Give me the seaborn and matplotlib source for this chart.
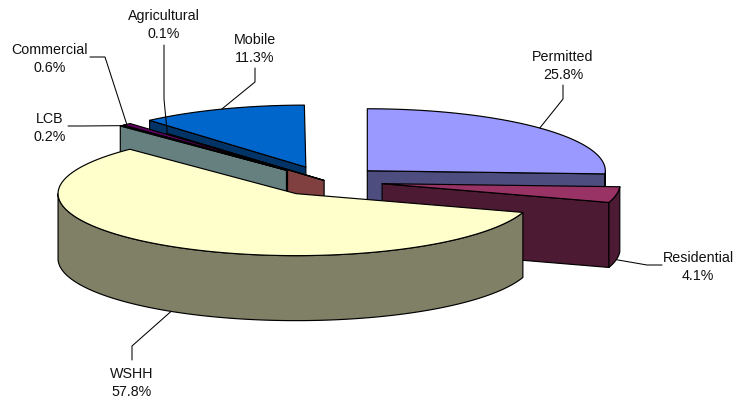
import numpy as np
import matplotlib
matplotlib.use("Agg")
import matplotlib.pyplot as plt
from matplotlib.patches import Polygon
import seaborn as sns

categories = ["Permitted", "Residential", "WSHH", "LCB", "Commercial", "Agricultural", "Mobile"]
shares = [25.8, 4.1, 57.8, 0.2, 0.6, 0.1, 11.3]
explode = [1, 1, 1, 1, 1, 0.05, 1]
top_colors = ["#9999FF", "#993366", "#FFFFCC", "#CCFFFF", "#660066", "#FF8080", "#0066CC"]
label_pos = [(563, 66), (698, 267), (132, 383), (50, 128), (50, 59), (164, 25), (255, 49)]
leader_knee = [[(563, 86), (563, 100)], [(662, 266), (647, 266)], [(132, 361), (132, 347)],
               [(68, 127), (82, 127)], [(90, 58), (105, 58)], [(164, 46), (164, 100)], [(255, 69), (255, 83)]]
draw_order = [0, 6, 5, 4, 3, 1, 2]

CX, CY, RX, RY, DEPTH, EXPL = 326.0, 182.0, 238.0, 62.0, 65.0, 57.0

sns.set_theme(style="white")
plt.rcParams["font.family"] = ["Liberation Sans", "DejaVu Sans"]
palette = sns.color_palette(top_colors)
fig = plt.figure(figsize=(7.39, 4.02), dpi=100)
ax = fig.add_axes([0, 0, 1, 1])
ax.set_xlim(0, 739)
ax.set_ylim(402, 0)
ax.axis("off")

LW = 0.85


def rim(ax0, ay0, deg):
    a = np.radians(deg)
    return np.stack([ax0 + RX * np.sin(a), ay0 - RY * np.cos(a)], axis=-1)


def poly(points, color, z):
    ax.add_patch(Polygon(points, closed=True, facecolor=color, edgecolor="black",
                         linewidth=LW, joinstyle="round", zorder=z))


edges = np.cumsum([0] + shares) * 3.6
apexes = {}
for i in range(len(shares)):
    a0, a1 = edges[i], edges[i + 1]
    mid = np.radians((a0 + a1) / 2)
    apexes[i] = (CX + explode[i] * EXPL * np.sin(mid),
                 CY - explode[i] * EXPL * (RY / RX) * np.cos(mid))

z = 1
for i in draw_order:
    a0, a1 = edges[i], edges[i + 1]
    ox, oy = apexes[i]
    base = np.array(palette[i])
    shade = tuple(base * 0.5)
    down = np.array([0, DEPTH])
    apex = np.array([ox, oy])
    # visible cut face
    if a1 < 180:
        p = rim(ox, oy, a1)
        poly([apex, p, p + down, apex + down], shade, z); z += 1
    if a0 > 180:
        p = rim(ox, oy, a0)
        poly([apex, p, p + down, apex + down], shade, z); z += 1
    # visible outer rim
    lo, hi = max(a0, 90), min(a1, 270)
    if hi > lo:
        arc = rim(ox, oy, np.linspace(lo, hi, 120))
        poly(np.vstack([arc, (arc + down)[::-1]]), shade, z); z += 1
    # top surface
    arc = rim(ox, oy, np.linspace(a0, a1, 200))
    poly(np.vstack([apex, arc]), tuple(base), z); z += 1

# leaders and labels
for i, name in enumerate(categories):
    a0, a1 = edges[i], edges[i + 1]
    m = (a0 + a1) / 2
    ox, oy = apexes[i]
    end = rim(ox, oy, m)
    if 90 < m < 270:
        end = end + np.array([0, DEPTH])
    pts = np.array(leader_knee[i] + [tuple(end)])
    ax.plot(pts[:, 0], pts[:, 1], color="black", lw=0.75, zorder=z + 1)
    x, y = label_pos[i]
    ax.text(x, y, f"{name}\n{shares[i]:.1f}%", ha="center", va="center",
            fontsize=10.3, color="#111111", linespacing=1.38, zorder=z + 2)

fig.savefig("out.png", dpi=100)
